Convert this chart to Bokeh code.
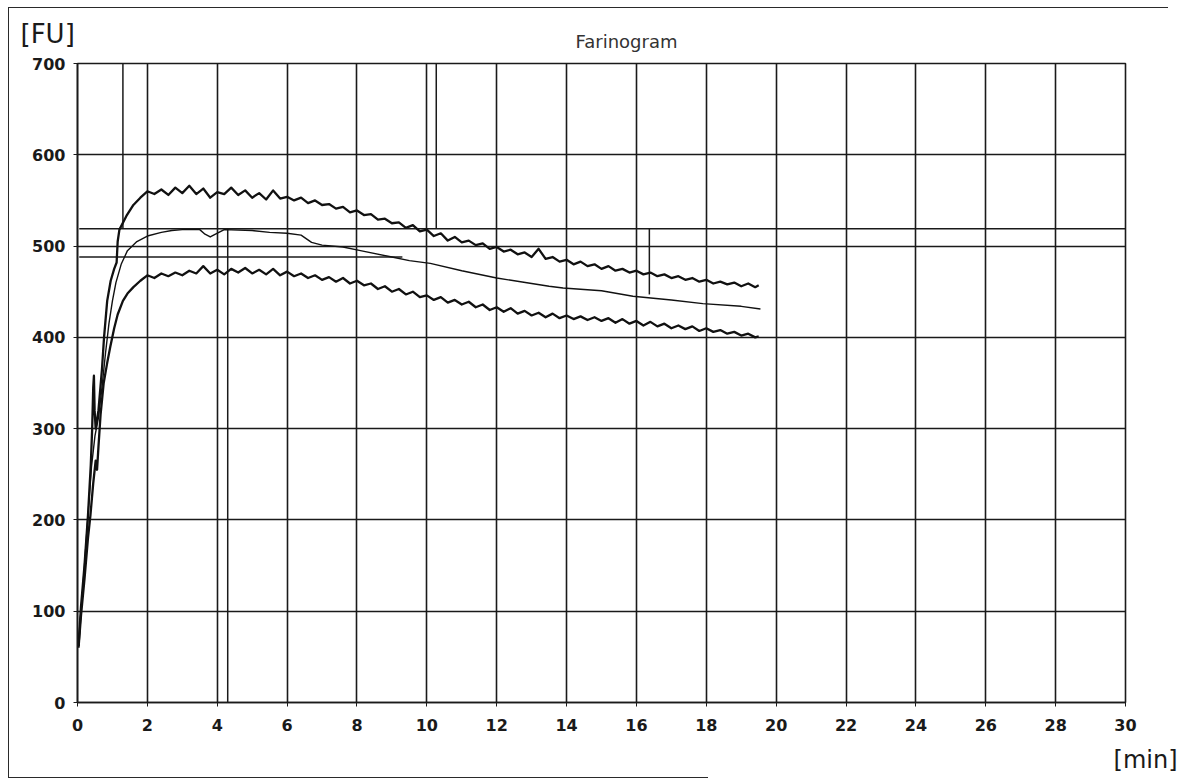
from bokeh.plotting import figure
from bokeh.models import Range1d, FixedTicker, Title, InlineStyleSheet
from bokeh.embed import file_html
from bokeh.resources import INLINE

# ---------------- data ----------------
x_ticks = list(range(0, 31, 2))
y_ticks = list(range(0, 701, 100))

t_upper = [0.03, 0.1, 0.2, 0.3, 0.38, 0.42, 0.45, 0.47, 0.49, 0.52, 0.6, 0.7, 0.76, 0.85, 0.95, 1.05, 1.12, 1.15,
           1.2, 1.4, 1.6, 1.8, 2.0, 2.2, 2.4, 2.6, 2.8, 3.0, 3.2, 3.4, 3.6, 3.8, 4.0, 4.2, 4.4, 4.6, 4.8, 5.0,
           5.2, 5.4, 5.6, 5.8, 6.0, 6.2, 6.4, 6.6, 6.8, 7.0, 7.2, 7.4, 7.6, 7.8, 8.0, 8.2, 8.4, 8.6, 8.8, 9.0,
           9.2, 9.4, 9.6, 9.8, 10.0, 10.2, 10.4, 10.6, 10.8, 11.0, 11.2, 11.4, 11.6, 11.8, 12.0, 12.2, 12.4,
           12.6, 12.8, 13.0, 13.2, 13.4, 13.6, 13.8, 14.0, 14.2, 14.4, 14.6, 14.8, 15.0, 15.2, 15.4, 15.6, 15.8,
           16.0, 16.2, 16.4, 16.6, 16.8, 17.0, 17.2, 17.4, 17.6, 17.8, 18.0, 18.2, 18.4, 18.6, 18.8, 19.0, 19.2,
           19.4, 19.5]
fu_upper = [62, 105, 150, 205, 260, 300, 345, 358, 320, 300, 320, 365, 400, 440, 462, 475, 482, 505,
            518, 533, 545, 553, 560, 557, 562, 556, 564, 558, 566, 557, 563, 553, 559, 557, 564, 556, 561, 553,
            558, 551, 561, 552, 554, 550, 553, 547, 550, 545, 546, 541, 543, 537, 539, 534, 535, 529, 530, 525,
            526, 520, 523, 516, 518, 511, 514, 506, 510, 504, 506, 501, 503, 497, 499, 494, 496,
            491, 493, 488, 497, 486, 488, 483, 485, 480, 483, 478, 480, 475, 478, 473, 475, 471,
            473, 469, 471, 467, 469, 465, 467, 463, 465, 461, 463, 459, 461, 458, 460, 456, 459,
            455, 457]

t_middle = [0.03, 0.1, 0.2, 0.3, 0.4, 0.5, 0.6, 0.7, 0.8, 0.9, 1.0, 1.1, 1.25, 1.43, 1.7, 2.0, 2.4, 2.7, 3.0,
            3.5, 3.65, 3.8, 3.95, 4.2, 5.0, 5.5, 6.0, 6.4, 6.7, 7.0, 7.6, 8.1, 9.0, 9.5, 10.1, 11.0, 12.0,
            13.0, 13.5, 13.9, 15.0, 15.9, 17.0, 17.9, 19.0, 19.55]
fu_middle = [62, 100, 150, 205, 258, 292, 312, 345, 382, 415, 440, 460, 480, 495, 505, 511, 515, 517, 518,
             518, 513, 510, 513, 518, 517, 515, 514, 512, 504, 501, 499, 495, 488, 484, 481, 473, 465,
             459, 456, 454, 451, 445, 441, 437, 434, 431]

t_lower = [0.03, 0.1, 0.2, 0.3, 0.37, 0.45, 0.52, 0.56, 0.6, 0.66, 0.75, 0.85, 0.94, 1.05, 1.15, 1.3, 1.43, 1.6,
           1.8, 2.0, 2.2, 2.4, 2.6, 2.8, 3.0, 3.2, 3.4, 3.6, 3.8, 4.0, 4.2, 4.4, 4.6, 4.8, 5.0, 5.2, 5.4, 5.6,
           5.8, 6.0, 6.2, 6.4, 6.6, 6.8, 7.0, 7.2, 7.4, 7.6, 7.8, 8.0, 8.2, 8.4, 8.6, 8.8, 9.0, 9.2, 9.4, 9.6,
           9.8, 10.0, 10.2, 10.4, 10.6, 10.8, 11.0, 11.2, 11.4, 11.6, 11.8, 12.0, 12.2, 12.4, 12.6, 12.8, 13.0,
           13.2, 13.4, 13.6, 13.8, 14.0, 14.2, 14.4, 14.6, 14.8, 15.0, 15.2, 15.4, 15.6, 15.8, 16.0, 16.2, 16.4,
           16.6, 16.8, 17.0, 17.2, 17.4, 17.6, 17.8, 18.0, 18.2, 18.4, 18.6, 18.8, 19.0, 19.2, 19.4, 19.5]
fu_lower = [60, 95, 135, 180, 205, 240, 265, 255, 280, 315, 350, 372, 390, 410, 425, 440, 448, 455,
            462, 468, 465, 470, 467, 471, 468, 473, 470, 478, 470, 474, 469, 475, 471, 476, 470, 474, 469, 475,
            468, 472, 467, 470, 465, 468, 463, 466, 461, 465, 459, 462, 457, 459, 453, 456, 450, 453, 447, 450,
            444, 446, 441, 444, 438, 441, 436, 439, 433, 436, 430, 433, 428, 432, 426, 429, 424,
            427, 422, 426, 421, 424, 420, 423, 419, 422, 418, 421, 416, 420, 415, 418, 413, 417,
            412, 415, 410, 413, 409, 412, 407, 410, 406, 408, 404, 406, 402, 404, 400, 401, 400]

hline_y = [519, 488]
hline_x0 = [0.05, 0.05]
hline_x1 = [30.0, 9.3]
vline_x = [1.3, 4.3, 10.27, 16.37]
vline_y0 = [519, 0, 519, 447]
vline_y1 = [700, 519, 700, 519]

title_text = "Farinogram"
y_unit = "[FU]"
x_unit = "[min]"

# ---------------- figure ----------------
FONT = "DejaVu Sans"
INK = "#1a1a1a"

frame_css = InlineStyleSheet(css="""
:host::before { content: ""; position: absolute; z-index: 50; left: 8px; top: 7px; width: 1160px; height: 771px;
  border-left: 1.5px solid #2a2a2a; border-top: 1.5px solid #2a2a2a; pointer-events: none; box-sizing: border-box; }
:host::after { content: ""; position: absolute; z-index: 50; left: 8px; top: 777px; width: 700px; height: 0px;
  border-top: 1.5px solid #2a2a2a; pointer-events: none; }
""")

p = figure(width=1177, height=783, output_backend="svg", toolbar_location=None,
           x_range=Range1d(0, 30), y_range=Range1d(0, 700),
           min_border_left=77, min_border_right=52, min_border_top=63, min_border_bottom=80,
           stylesheets=[frame_css])
p.background_fill_color = "white"
p.border_fill_color = "white"
p.outline_line_color = INK
p.outline_line_width = 1.6

for ax, ticks in ((p.xaxis, x_ticks), (p.yaxis, y_ticks)):
    ax.ticker = FixedTicker(ticks=ticks)
    ax.axis_line_color = INK
    ax.axis_line_width = 1.6
    ax.major_tick_line_color = INK
    ax.major_tick_out = 4
    ax.major_tick_in = 0
    ax.minor_tick_line_color = None
    ax.major_label_text_font = FONT
    ax.major_label_text_font_size = "16px"
    ax.major_label_text_font_style = "bold"
    ax.major_label_text_color = INK
p.xaxis.major_label_standoff = 12
p.yaxis.major_label_standoff = 8

p.xgrid.ticker = FixedTicker(ticks=x_ticks)
p.ygrid.ticker = FixedTicker(ticks=y_ticks)
for g in (p.xgrid, p.ygrid):
    g.grid_line_color = INK
    g.grid_line_width = 1.6
    g.grid_line_alpha = 1.0

p.segment(x0=hline_x0, y0=hline_y, x1=hline_x1, y1=hline_y, line_color=INK, line_width=1.5)
p.segment(x0=vline_x, y0=vline_y0, x1=vline_x, y1=vline_y1, line_color=INK, line_width=1.5)

p.line(t_upper, fu_upper, line_color="#111111", line_width=2.3, line_join="round")
p.line(t_lower, fu_lower, line_color="#111111", line_width=2.3, line_join="round")
p.line(t_middle, fu_middle, line_color="#111111", line_width=1.4, line_join="round")

# texts (titles sit in the border panels)
p.title.text = y_unit
p.title.align = "left"
p.title.offset = -57
p.title.text_font = FONT
p.title.text_font_size = "26px"
p.title.text_font_style = "normal"
p.title.text_color = INK
p.title.vertical_align = "bottom"
p.title.standoff = -64

p.add_layout(Title(text=title_text, align="left", offset=498, text_font=FONT, text_font_size="18px",
                   text_font_style="normal", text_color="#333333", standoff=24,
                   vertical_align="bottom"), "above")
p.add_layout(Title(text=x_unit, align="right", offset=-52, text_font=FONT, text_font_size="24px",
                   text_font_style="normal", text_color=INK, standoff=20), "below")

open("out.html", "w").write(file_html(p, INLINE))
